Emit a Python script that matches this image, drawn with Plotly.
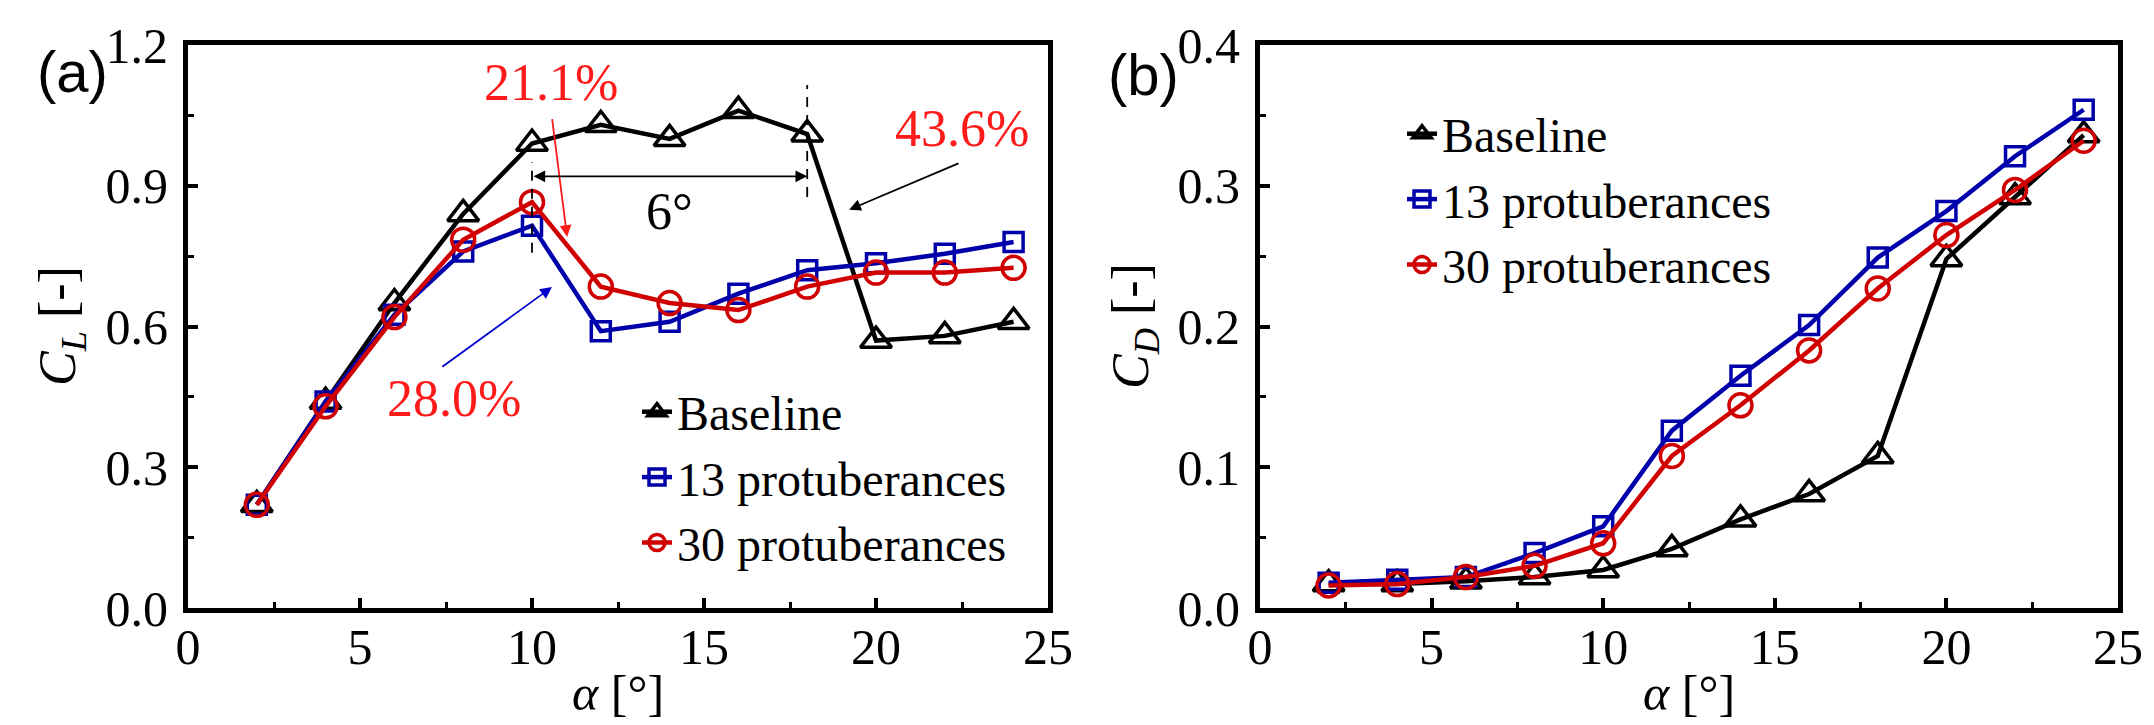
import plotly.graph_objects as go

# ---------------- data ----------------
alpha = [2, 4, 6, 8, 10, 12, 14, 16, 18, 20, 22, 24]

cl_base = [0.22, 0.44, 0.65, 0.84, 0.99, 1.03, 1.00, 1.06, 1.01, 0.57, 0.58, 0.61]
cl_13 = [0.22, 0.44, 0.625, 0.76, 0.815, 0.59, 0.61, 0.67, 0.72, 0.735, 0.755, 0.78]
cl_30 = [0.22, 0.43, 0.62, 0.785, 0.865, 0.685, 0.65, 0.635, 0.685, 0.715, 0.715, 0.725]

cd_base = [0.017, 0.017, 0.019, 0.022, 0.027, 0.042, 0.063, 0.081, 0.108, 0.248, 0.292, 0.336]
cd_13 = [0.018, 0.020, 0.022, 0.039, 0.058, 0.126, 0.165, 0.201, 0.249, 0.282, 0.321, 0.354]
cd_30 = [0.016, 0.017, 0.022, 0.030, 0.046, 0.108, 0.144, 0.183, 0.227, 0.265, 0.297, 0.332]

names = ["Baseline", "13 protuberances", "30 protuberances"]
colors = ["#000000", "#0000AA", "#D00000"]
symbols = ["triangle-up-open", "square-open", "circle-open"]
msizes = [27, 19, 23]

SERIF = "Liberation Serif, Times New Roman, serif"
SANS = "Liberation Sans, Arial, sans-serif"

W, H = 2154, 725


def X(px):
    return px / W


def Y(py):
    return 1 - py / H


fig = go.Figure()

for ys, xa, ya, lg in [((cl_base, cl_13, cl_30), "x", "y", "legend"),
                       ((cd_base, cd_13, cd_30), "x2", "y2", "legend2")]:
    for i, yv in enumerate(ys):
        fig.add_trace(go.Scatter(
            x=alpha, y=yv, name=names[i], mode="lines+markers",
            xaxis=xa, yaxis=ya, legend=lg,
            line=dict(color=colors[i], width=4.5),
            marker=dict(symbol=symbols[i], size=msizes[i], color=colors[i],
                        line=dict(color=colors[i], width=3.5)),
        ))

xdom1 = [X(188), X(1048)]
xdom2 = [X(1260), X(2118)]
ydom = [Y(608), Y(45)]

tickfont = dict(family=SERIF, size=50, color="black")


def xaxis_cfg(dom, anchor):
    return dict(domain=dom, anchor=anchor, range=[0, 25], tick0=0, dtick=5,
                ticks="inside", ticklen=10, tickwidth=3.5, tickcolor="black",
                minor=dict(ticks="inside", ticklen=6, tickwidth=3, dtick=2.5, tickcolor="black"),
                showline=True, linewidth=5, linecolor="black", mirror=True,
                showgrid=False, zeroline=False, tickfont=tickfont, ticklabelstandoff=-9)


def yaxis_cfg(anchor, rng, dt):
    return dict(domain=ydom, anchor=anchor, range=rng, tick0=0, dtick=dt,
                tickformat=".1f",
                ticks="inside", ticklen=10, tickwidth=3.5, tickcolor="black",
                minor=dict(ticks="inside", ticklen=6, tickwidth=3, dtick=dt / 2, tickcolor="black"),
                showline=True, linewidth=5, linecolor="black", mirror=True,
                showgrid=False, zeroline=False, tickfont=tickfont, ticklabelstandoff=5)


fig.update_layout(
    width=W, height=H,
    margin=dict(l=0, r=0, t=0, b=0, autoexpand=False),
    paper_bgcolor="white", plot_bgcolor="white",
    xaxis=xaxis_cfg(xdom1, "y"),
    yaxis=yaxis_cfg("x", [0, 1.2], 0.3),
    xaxis2=xaxis_cfg(xdom2, "y2"),
    yaxis2=yaxis_cfg("x2", [0, 0.4], 0.1),
    legend=dict(x=X(637), y=Y(374), xanchor="left", yanchor="top",
                font=dict(family=SERIF, size=48, color="black"),
                bgcolor="rgba(0,0,0,0)", tracegroupgap=0),
    legend2=dict(x=X(1402), y=Y(96), xanchor="left", yanchor="top",
                 font=dict(family=SERIF, size=48, color="black"),
                 bgcolor="rgba(0,0,0,0)", tracegroupgap=0),
)

ann = []


def ptext(text, px, py, font, angle=0):
    ann.append(dict(text=text, x=X(px), y=Y(py), xref="paper", yref="paper",
                    xanchor="center", yanchor="middle", textangle=angle,
                    showarrow=False, font=font))


# panel labels
ptext("(a)", 72, 72, dict(family=SANS, size=58, color="black"))
ptext("(b)", 1143, 74, dict(family=SANS, size=58, color="black"))
# axis titles
for cx in [(188 + 1048) / 2, (1260 + 2118) / 2]:
    ptext("<i>α</i> [°]", cx, 693, dict(family=SERIF, size=50, color="black"))
ptext("<i>C</i><sub><i>L</i></sub> [-]", 61, 326, dict(family=SERIF, size=52, color="black"), -90)
ptext("<i>C</i><sub><i>D</i></sub> [-]", 1134, 326, dict(family=SERIF, size=52, color="black"), -90)


def dtext(text, x, y, color):
    ann.append(dict(text=text, x=x, y=y, xref="x", yref="y", showarrow=False,
                    xanchor="center", yanchor="middle",
                    font=dict(family=SERIF, size=52, color=color)))


red_txt = "#FF1A1A"
dtext("21.1%", 10.55, 1.12, red_txt)
dtext("43.6%", 22.5, 1.023, red_txt)
dtext("28.0%", 7.73, 0.446, red_txt)
dtext("6°", 14.0, 0.845, "black")


def arrow(x, y, ax, ay, color, both=False):
    d = dict(text="", x=x, y=y, ax=ax, ay=ay, xref="x", yref="y",
             axref="x", ayref="y", showarrow=True, arrowhead=2, arrowsize=1.3,
             arrowwidth=1.8, arrowcolor=color, standoff=0)
    if both:
        d.update(arrowside="end+start", startarrowhead=2, startarrowsize=1.3, startstandoff=0)
    ann.append(d)


arrow(11.02, 0.791, 10.58, 1.045, "#FF1A1A")
arrow(19.22, 0.849, 22.44, 0.949, "black")
arrow(10.58, 0.684, 7.35, 0.512, "#0000CC")
arrow(18, 0.92, 10, 0.92, "black", both=True)
fig.update_layout(annotations=ann)

fig.add_shape(type="line", x0=10, x1=10, y0=0.757, y1=0.95, xref="x", yref="y",
              line=dict(color="black", width=1.8, dash="10px,8px"))
fig.add_shape(type="line", x0=18, x1=18, y0=0.876, y1=1.115, xref="x", yref="y",
              line=dict(color="black", width=1.8, dash="10px,8px"))

fig.write_html("out.html",
               config={"displayModeBar": False},
               post_script="document.body.style.margin='0';document.body.style.overflow='hidden';")
